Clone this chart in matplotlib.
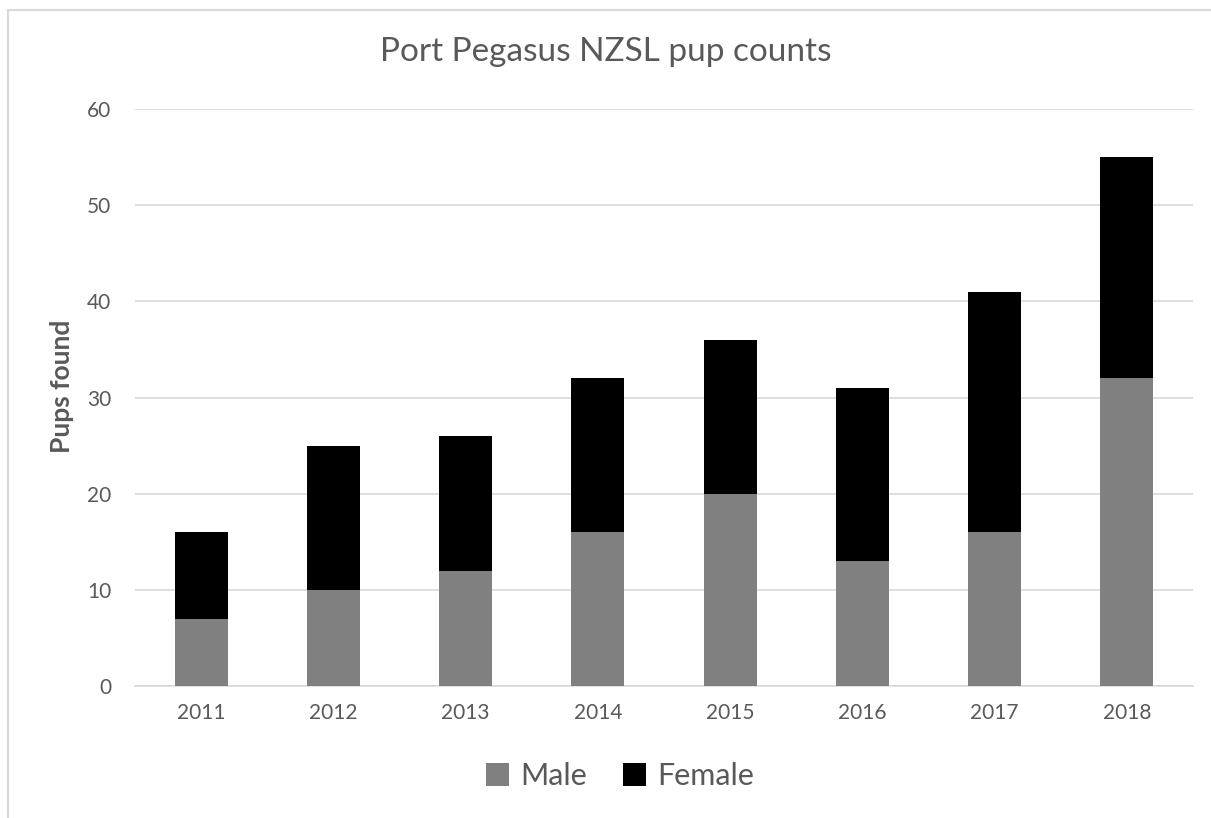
import matplotlib.pyplot as plt
from matplotlib.patches import Rectangle

years = ['2011', '2012', '2013', '2014', '2015', '2016', '2017', '2018']
male = [7, 10, 12, 16, 20, 13, 16, 32]
female = [9, 15, 14, 16, 16, 18, 25, 23]

plt.rcParams['font.family'] = ['Lato', 'DejaVu Sans']

fig = plt.figure(figsize=(12.11, 8.18), dpi=100)
ax = fig.add_axes([135 / 1211, 132 / 818, 1058 / 1211, 577 / 818])

# chart border (only top and left visible in the crop)
fig.patches.append(Rectangle((8 / 1211, -0.1), 1.2, (808 / 818) + 0.1, transform=fig.transFigure,
                             fill=False, edgecolor='#d9d9d9', linewidth=1.5))

x = range(len(years))
ax.bar(x, male, width=0.4, color='#808080', label='Male', zorder=3)
ax.bar(x, female, width=0.4, bottom=male, color='#000000', label='Female', zorder=3)

ax.set_xlim(-0.5, len(years) - 0.5)
ax.set_ylim(0, 60)
ax.set_yticks(range(0, 61, 10))
ax.set_xticks(list(x))
ax.set_xticklabels(years)
ax.grid(axis='y', color='#d9d9d9', linewidth=1.2, zorder=0)
for s in ['top', 'right', 'left']:
    ax.spines[s].set_visible(False)
ax.spines['bottom'].set_color('#d9d9d9')
ax.spines['bottom'].set_linewidth(1.2)
ax.tick_params(length=0, labelsize=15, colors='#595959', pad=12)
ax.tick_params(axis='y', pad=17)

ax.set_ylabel('Pups found', fontsize=19, fontweight='bold', color='#595959')
ax.yaxis.set_label_coords(-0.058, 0.52)
fig.text(0.5, 1 - 52 / 818, 'Port Pegasus NZSL pup counts', ha='center', va='center',
         fontsize=24, color='#595959')

fig.legend(loc='center', bbox_to_anchor=(620 / 1211, 1 - 776 / 818), ncol=2, frameon=False,
           fontsize=22, handlelength=0.75, handleheight=0.75, handletextpad=0.35,
           columnspacing=1.2, labelcolor='#595959')

fig.savefig('out.png', dpi=100)
